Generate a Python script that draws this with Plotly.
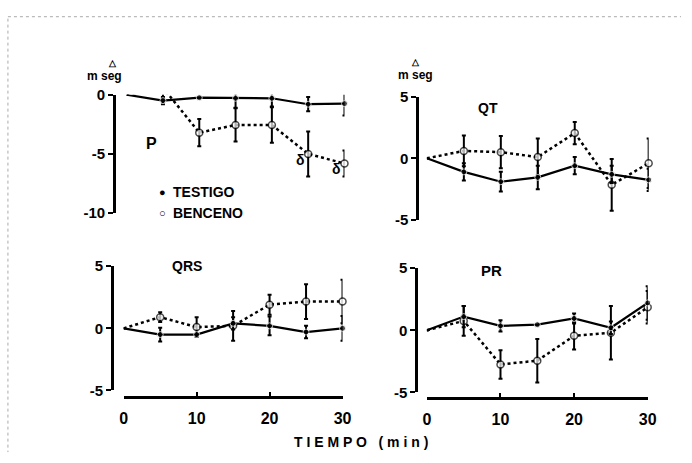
import plotly.graph_objects as go

# ---------------- data ----------------
tiempo = [0, 5, 10, 15, 20, 25, 30]

p_testigo = [0, -0.5, -0.25, -0.3, -0.3, -0.8, -0.75]
p_testigo_err = [0, 0.3, 0, 0.8, 0.7, 0.6, 1.0]
p_benceno = [0, 0.6, -3.2, -2.55, -2.55, -5.0, -5.8]
p_benceno_err = [0, 0.9, 1.15, 1.4, 1.5, 1.9, 1.1]

qt_testigo = [0, -1.1, -1.9, -1.55, -0.6, -1.3, -1.75]
qt_testigo_err = [0, 0.7, 0.8, 0.95, 0.7, 0.7, 0.9]
qt_benceno = [0, 0.6, 0.5, 0.1, 2.05, -2.15, -0.4]
qt_benceno_err = [0, 1.25, 1.3, 1.5, 0.9, 2.1, 2.0]

qrs_testigo = [0, -0.5, -0.5, 0.4, 0.2, -0.3, 0.0]
qrs_testigo_err = [0, 0.55, 0, 0.5, 0.75, 0.5, 1.0]
qrs_benceno = [0, 0.9, 0.1, 0.2, 1.9, 2.15, 2.15]
qrs_benceno_err = [0, 0.4, 0.8, 1.2, 0.8, 1.4, 1.75]

pr_testigo = [0, 1.1, 0.35, 0.45, 0.95, 0.2, 2.2]
pr_testigo_err = [0, 0.85, 0.45, 0, 0.4, 0.5, 1.35]
pr_benceno = [0, 0.75, -2.75, -2.45, -0.45, -0.2, 1.85]
pr_benceno_err = [0, 1.2, 1.15, 1.75, 1.1, 2.15, 1.3]

x_ticks = [0, 10, 20, 30]
x_ticktext = ["0", "10", "20", "30"]
p_ticks = [0, -5, -10]
p_ticktext = ["0", "-5", "-10"]
five_ticks = [5, 0, -5]
five_ticktext = ["5", "0", "-5"]

# ---------------- layout helpers ----------------
W, H = 692, 463
def fx(px):
    return px / W
def fy(py):
    return 1 - py / H

FONT = dict(family="Liberation Sans, Arial, sans-serif", size=14, color="black", weight="bold")

fig = go.Figure()

panels = [
    ("P", p_testigo, p_testigo_err, p_benceno, p_benceno_err, "x", "y"),
    ("QT", qt_testigo, qt_testigo_err, qt_benceno, qt_benceno_err, "x2", "y2"),
    ("QRS", qrs_testigo, qrs_testigo_err, qrs_benceno, qrs_benceno_err, "x3", "y3"),
    ("PR", pr_testigo, pr_testigo_err, pr_benceno, pr_benceno_err, "x4", "y4"),
]

open_sizes = [0] + [7] * (len(tiempo) - 1)
fill_sizes = [0] + [6] * (len(tiempo) - 1)
for name, tv, te, bv, be, xa, ya in panels:
    fig.add_trace(go.Scatter(
        x=tiempo, y=bv, xaxis=xa, yaxis=ya, mode="lines+markers",
        line=dict(color="black", width=2.5, dash="dot"),
        marker=dict(symbol="circle", size=open_sizes, color="white",
                    line=dict(color="black", width=1.5)),
        error_y=dict(type="data", array=be, visible=True, color="black",
                     thickness=2, width=2),
        cliponaxis=False, showlegend=False))
    fig.add_trace(go.Scatter(
        x=tiempo, y=tv, xaxis=xa, yaxis=ya, mode="lines+markers",
        line=dict(color="black", width=2.2),
        marker=dict(symbol="circle", size=fill_sizes, color="black"),
        error_y=dict(type="data", array=te, visible=True, color="black",
                     thickness=2, width=2),
        cliponaxis=False, showlegend=False))

def yax(dom_px, rng, pos_px, tv, tt):
    return dict(domain=[fy(dom_px[1]), fy(dom_px[0])], range=rng, anchor="free",
                position=fx(pos_px), showline=True, linecolor="black", linewidth=2.5,
                ticks="outside", ticklen=5, tickwidth=2, tickcolor="black",
                tickvals=tv, ticktext=tt, showgrid=False, zeroline=False,
                tickfont=dict(FONT, size=15))

def xax(dom_px, show, pos_px=None):
    d = dict(domain=[fx(dom_px[0]), fx(dom_px[1])], range=[0, 30],
             showgrid=False, zeroline=False)
    if show:
        d.update(anchor="free", position=fy(pos_px), showline=True, linecolor="black",
                 linewidth=2.5, ticks="inside", ticklen=4, tickwidth=2, tickcolor="black",
                 tickvals=x_ticks, ticktext=x_ticktext, tickfont=dict(FONT, size=16),
                 ticklabelstandoff=6)
    else:
        d.update(visible=False)
    return d

fig.update_layout(
    width=W, height=H, margin=dict(l=0, r=0, t=0, b=0),
    paper_bgcolor="white", plot_bgcolor="white",
    xaxis=xax([125, 347], False),
    yaxis=yax([89, 212], [-10, 0], 112, p_ticks, p_ticktext),
    xaxis2=xax([431, 657], False),
    yaxis2=yax([91, 219], [-5, 5], 421, five_ticks, five_ticktext),
    xaxis3=xax([122, 345], True, 403),
    yaxis3=yax([267, 396], [-5, 5], 110, five_ticks, five_ticktext),
    xaxis4=xax([431, 656], True, 404),
    yaxis4=yax([269, 398], [-5, 5], 420, five_ticks, five_ticktext),
)

def ann(text, x, y, size=14, xanchor="center"):
    fig.add_annotation(text=text, x=fx(x), y=fy(y), xref="paper", yref="paper",
                       showarrow=False, xanchor=xanchor, yanchor="middle",
                       font=dict(FONT, size=size))

# unit labels
ann("m seg", 102, 70, 12)
ann("△", 111, 56, 9)
ann("m seg", 419, 69, 12)
ann("△", 419, 55, 9)

# panel names
ann("P", 150, 140, 16)
ann("QT", 493, 103, 14)
ann("QRS", 187, 267, 14)
ann("PR", 497, 271, 15)

# significance marks
ann("δ", 302, 157, 14)
ann("δ", 339, 166, 14)

# legend
ann("●", 162, 190, 11)
ann("TESTIGO", 170, 190, 14, "left")
ann("○", 162, 212, 11)
ann("BENCENO", 170, 212, 14, "left")

# x title
ann("T I E M P O&nbsp;&nbsp;&nbsp;( m i n )", 364, 450, 14)

# faint scan border
fig.add_shape(type="line", xref="paper", yref="paper", x0=fx(4), x1=fx(690), y0=fy(8), y1=fy(8),
              line=dict(color="#aaaaaa", width=1, dash="dot"))
fig.add_shape(type="line", xref="paper", yref="paper", x0=fx(4), x1=fx(4), y0=fy(10), y1=fy(460),
              line=dict(color="#aaaaaa", width=1, dash="dot"))

fig.write_html("out.html")
